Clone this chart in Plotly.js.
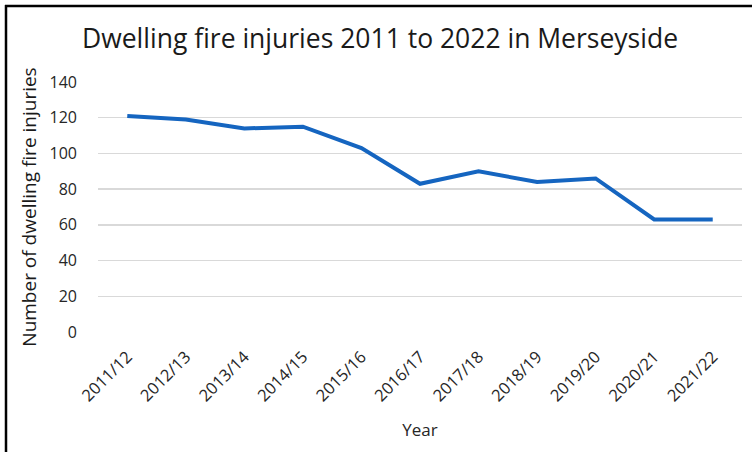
<!DOCTYPE html>
<html>
<head>
<meta charset="utf-8">
<script src="https://cdn.plot.ly/plotly-3.0.1.min.js"></script>
<style>
html,body{margin:0;padding:0;background:#fff;}
#chart{width:752px;height:452px;}
</style>
</head>
<body>
<div id="chart"></div>
<script>
const years = ["2011/12","2012/13","2013/14","2014/15","2015/16","2016/17","2017/18","2018/19","2019/20","2020/21","2021/22"];
const injuries = [121, 119, 114, 115, 103, 83, 90, 84, 86, 63, 63];
const yTicks = [0, 20, 40, 60, 80, 100, 120, 140];

const FONT = "'Open Sans', Lato, sans-serif";

const trace = {
  type: "scatter",
  mode: "lines",
  x: years,
  y: injuries,
  line: {color: "#1565C0", width: 4},
  hoverinfo: "skip"
};

const L = 98, R = 10, T = 82, B = 120;
const W = 752, H = 452;
const pw = W - L - R, ph = H - T - B;
const px = v => (v - L) / pw;
const py = v => (H - B - v) / ph;

const layout = {
  width: W, height: H,
  margin: {l: L, r: R, t: T, b: B, pad: 0},
  paper_bgcolor: "#fff",
  plot_bgcolor: "#fff",
  showlegend: false,
  font: {family: FONT, color: "#404040"},
  title: {
    text: "Dwelling fire injuries 2011 to 2022 in Merseyside",
    font: {family: FONT, size: 26.5, color: "#1a1a1a"},
    x: 380 / W, xref: "container", xanchor: "center",
    y: 1 - 39/H, yref: "container", yanchor: "middle"
  },
  xaxis: {
    type: "category",
    range: [-0.5, years.length - 0.5],
    showgrid: false,
    zeroline: false,
    showline: false,
    ticks: "",
    tickangle: -45,
    ticklabelstandoff: 11,
    tickfont: {family: FONT, size: 16.5, color: "#262626"},
    title: {text: "Year", font: {family: FONT, size: 17, color: "#262626"}, standoff: 19},
    fixedrange: true
  },
  yaxis: {
    range: [0, 140],
    tickvals: yTicks,
    ticktext: yTicks.map(String),
    showgrid: true,
    gridcolor: "#d9d9d9",
    gridwidth: 1.5,
    zeroline: false,
    showline: false,
    ticks: "",
    ticklabelstandoff: 20,
    tickfont: {family: FONT, size: 16, color: "#262626"},
    title: {text: "Number of dwelling fire injuries", font: {family: FONT, size: 19, color: "#1a1a1a"}, standoff: 7},
    fixedrange: true
  },
  shapes: [
    {type: "line", xref: "paper", yref: "paper", x0: px(6), x1: px(6), y0: py(H + 2), y1: py(5), line: {color: "#000", width: 2.5}},
    {type: "line", xref: "paper", yref: "paper", x0: px(5), x1: px(W + 2), y0: py(6), y1: py(6), line: {color: "#000", width: 2.5}}
  ]
};

Plotly.newPlot("chart", [trace], layout, {displayModeBar: false, staticPlot: true});
</script>
</body>
</html>
